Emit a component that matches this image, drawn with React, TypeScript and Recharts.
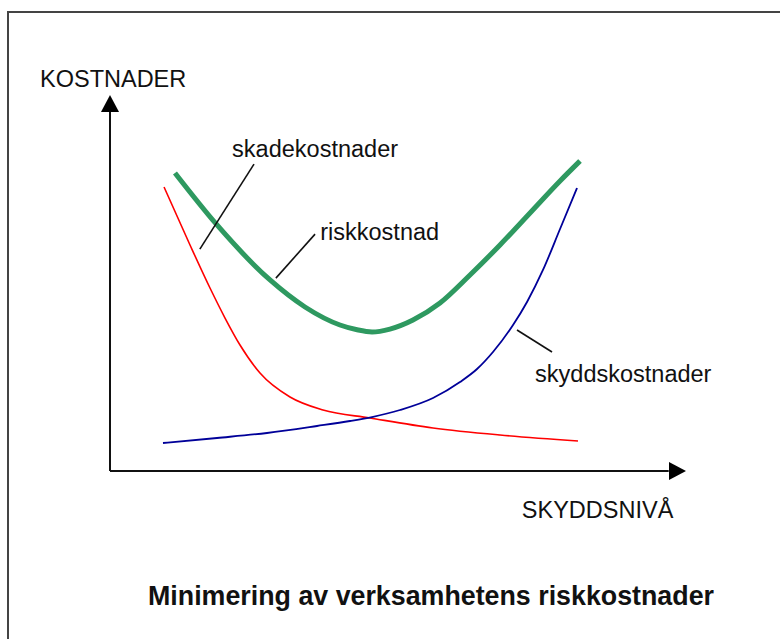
import React from 'react';
import { LineChart, Line, XAxis, YAxis, ReferenceDot, ReferenceLine } from 'recharts';

// Curves (x = skyddsnivå 0..100, y = kostnader 0..100)
const skadekostnader = [
  { x: 9.38, y: 75.53 }, { x: 13.89, y: 60.11 }, { x: 17.36, y: 48.67 }, { x: 19.97, y: 40.69 },
  { x: 22.57, y: 33.51 }, { x: 26.04, y: 26.06 }, { x: 31.25, y: 19.68 }, { x: 36.98, y: 16.22 },
  { x: 45.14, y: 14.1 }, { x: 56.08, y: 11.44 }, { x: 67.71, y: 9.57 }, { x: 81.25, y: 7.98 },
];
const skyddskostnader = [
  { x: 9.2, y: 7.45 }, { x: 18.58, y: 8.78 }, { x: 27.26, y: 10.11 }, { x: 35.94, y: 11.97 },
  { x: 41.67, y: 13.3 }, { x: 45.49, y: 14.36 }, { x: 50.35, y: 16.22 }, { x: 56.08, y: 19.41 },
  { x: 60.76, y: 23.67 }, { x: 63.72, y: 27.13 }, { x: 66.49, y: 31.65 }, { x: 69.97, y: 38.83 },
  { x: 72.4, y: 44.95 }, { x: 75.17, y: 53.46 }, { x: 78.13, y: 64.36 }, { x: 81.08, y: 75.27 },
];
const riskkostnad = [
  { x: 11.28, y: 79.26 }, { x: 18.58, y: 65.43 }, { x: 27.78, y: 50.8 }, { x: 33.85, y: 43.62 },
  { x: 39.93, y: 38.83 }, { x: 42.9, y: 37.55 }, { x: 45.49, y: 36.97 }, { x: 48.6, y: 37.75 },
  { x: 52.6, y: 40.16 }, { x: 57.29, y: 44.68 },
  { x: 62.5, y: 52.13 }, { x: 67.71, y: 60.11 }, { x: 72.92, y: 68.62 }, { x: 78.13, y: 77.13 },
  { x: 81.6, y: 82.45 },
];

// Annotation texts anchored in data units
const curveLabels = [
  { text: 'skadekostnader', x: 21.2, y: 83.5 },
  { text: 'riskkostnad', x: 36.5, y: 61.4 },
  { text: 'skyddskostnader', x: 73.8, y: 23.7 },
];
const axisLabels = [
  { text: 'KOSTNADER', x: -12.15, y: 102.1 },
  { text: 'SKYDDSNIVÅ', x: 71.5, y: -12.5 },
];
const titleText = 'Minimering av verksamhetens riskkostnader';
const titleAnchor = { x: 6.6, y: -35.6 };

// Leader lines from labels to curves
const leaders = [
  { x1: 25.0, y1: 81.6, x2: 15.6, y2: 59.0 },
  { x1: 35.6, y1: 63.0, x2: 28.8, y2: 51.3 },
  { x1: 70.66, y1: 37.5, x2: 76.74, y2: 31.65 },
];

// Axis extents (data units)
const xAxisEnd = 97;
const yAxisEnd = 96;

const FONT = '"Liberation Sans", Arial, sans-serif';

const makeText = (text: string, size: number, bold = false) => (props: any) => (
  <text
    x={props.cx}
    y={props.cy}
    fontFamily={FONT}
    fontSize={size}
    fontWeight={bold ? 'bold' : 'normal'}
    fill="#111"
    textAnchor="start"
  >
    {text}
  </text>
);

const ArrowRight = (props: any) => {
  const { cx, cy } = props;
  return <polygon points={`${cx},${cy} ${cx - 17},${cy - 9} ${cx - 17},${cy + 9}`} fill="#000" />;
};
const ArrowUp = (props: any) => {
  const { cx, cy } = props;
  return <polygon points={`${cx},${cy} ${cx - 9},${cy + 17} ${cx + 9},${cy + 17}`} fill="#000" />;
};

export default function App() {
  return (
    <div style={{ position: 'absolute', left: 0, top: 0, width: 780, height: 639, overflow: 'hidden', background: '#fff' }}>
      <div
        style={{
          position: 'absolute',
          left: 7,
          top: 11,
          width: 800,
          height: 700,
          borderTop: '2px solid #444',
          borderLeft: '2px solid #444',
        }}
      />
      <div style={{ position: 'absolute', left: 0, top: 0 }}>
        <LineChart width={780} height={639} margin={{ top: 95, left: 110, right: 94, bottom: 168 }}>
          <XAxis type="number" dataKey="x" domain={[0, 100]} allowDataOverflow hide />
          <YAxis type="number" dataKey="y" domain={[0, 100]} allowDataOverflow hide />
          <ReferenceLine
            segment={[{ x: 0, y: 0 }, { x: xAxisEnd, y: 0 }]}
            stroke="#111"
            strokeWidth={2}
            ifOverflow="visible"
          />
          <ReferenceLine
            segment={[{ x: 0, y: 0 }, { x: 0, y: yAxisEnd }]}
            stroke="#111"
            strokeWidth={2}
            ifOverflow="visible"
          />
          <ReferenceDot x={100} y={0} r={0} ifOverflow="visible" shape={ArrowRight} />
          <ReferenceDot x={0} y={100} r={0} ifOverflow="visible" shape={ArrowUp} />
          <Line
            data={skadekostnader}
            dataKey="y"
            type="monotone"
            stroke="#ff0000"
            strokeWidth={1.6}
            dot={false}
            activeDot={false}
            isAnimationActive={false}
          />
          <Line
            data={skyddskostnader}
            dataKey="y"
            type="monotone"
            stroke="#000099"
            strokeWidth={1.8}
            dot={false}
            activeDot={false}
            isAnimationActive={false}
          />
          <Line
            data={riskkostnad}
            dataKey="y"
            type="monotone"
            stroke="#2e9960"
            strokeWidth={5}
            dot={false}
            activeDot={false}
            isAnimationActive={false}
          />
          {leaders.map((l, i) => (
            <ReferenceLine
              key={'l' + i}
              segment={[{ x: l.x1, y: l.y1 }, { x: l.x2, y: l.y2 }]}
              stroke="#111"
              strokeWidth={1.6}
              ifOverflow="visible"
            />
          ))}
          {curveLabels.map((c) => (
            <ReferenceDot key={c.text} x={c.x} y={c.y} r={0} ifOverflow="visible" shape={makeText(c.text, 23.5)} />
          ))}
          {axisLabels.map((c) => (
            <ReferenceDot key={c.text} x={c.x} y={c.y} r={0} ifOverflow="visible" shape={makeText(c.text, 23.5)} />
          ))}
          <ReferenceDot
            x={titleAnchor.x}
            y={titleAnchor.y}
            r={0}
            ifOverflow="visible"
            shape={makeText(titleText, 26.8, true)}
          />
        </LineChart>
      </div>
    </div>
  );
}
